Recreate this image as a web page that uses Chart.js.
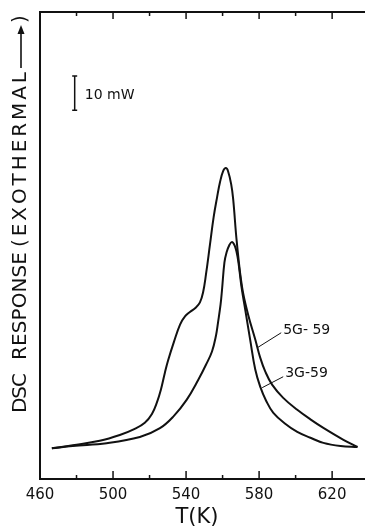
<!DOCTYPE html>
<html>
<head>
<meta charset="utf-8">
<script src="https://cdn.jsdelivr.net/npm/chart.js@4.4.1/dist/chart.umd.min.js"></script>
<style>
    html, body { margin: 0; padding: 0; background: #fff; }
    #wrap { width: 365px; height: 529px; position: relative; }
</style>
</head>
<body>
<div id="wrap"><canvas id="dscChart"></canvas></div>
<script>
// 5G-59 (tall peak with shoulder), temperature in K, response in mW (arbitrary zero)
const tempA = [466.5, 477.9, 492.7, 503.7, 511.9, 517.4, 521.3, 524.0, 526.2, 528.4, 530.1, 533.4, 536.7, 539.4, 542.1, 545.4, 547.6, 549.3, 550.9, 553.1, 555.1, 557.0, 558.6, 560.3, 561.8, 563.0, 564.7, 565.8, 567.8, 570.7, 574.0, 577.9, 580.6, 583.4, 587.2, 593.2, 600.9, 608.1, 615.2, 626.2, 633.9];
const respA = [9.0, 9.9, 11.2, 12.9, 14.7, 16.5, 19.1, 22.4, 26.2, 31.2, 34.7, 40.3, 45.3, 47.7, 49.0, 50.3, 51.8, 54.7, 60.0, 68.8, 76.8, 82.7, 87.1, 90.3, 91.2, 90.3, 86.5, 82.1, 69.4, 56.2, 48.2, 40.9, 35.6, 31.5, 27.6, 23.8, 20.3, 17.5, 15.0, 11.5, 9.4];

// 3G-59
const tempB = [466.5, 477.9, 496.5, 514.7, 525.7, 533.0, 540.3, 546.7, 550.9, 554.2, 556.4, 557.5, 558.9, 559.7, 561.0, 562.2, 563.6, 565.1, 566.6, 567.7, 568.7, 570.4, 572.4, 575.1, 577.9, 580.6, 583.9, 587.8, 594.3, 600.9, 608.1, 615.2, 624.6, 633.9];
const respB = [9.0, 9.7, 10.5, 12.3, 14.9, 18.3, 23.2, 29.1, 33.5, 37.4, 42.1, 45.9, 51.2, 55.6, 63.5, 66.5, 68.5, 69.5, 68.5, 66.5, 63.5, 56.2, 49.7, 40.9, 32.1, 27.1, 22.9, 19.4, 16.2, 13.8, 12.1, 10.6, 9.7, 9.4];

const seriesNames = ['5G-59', '3G-59'];
const xTickLabels = [460, 500, 540, 580, 620];
const xMinorTicks = [480, 520, 560, 600];
const topMajorTicks = [500, 540, 580, 620];
const topMinorTicks = [480, 520, 560, 600];

const FONT = "'DejaVu Sans', 'Liberation Sans', sans-serif";
const INK = '#111';

// labels, leaders, scale bar, frame extras
const decorations = {
    id: 'decorations',
    afterDraw(chart) {
        const ctx = chart.ctx;
        const area = chart.chartArea;
        const xs = chart.scales.x, ys = chart.scales.y;
        const px = v => xs.getPixelForValue(v);
        const py = v => ys.getPixelForValue(v);

        ctx.save();
        ctx.strokeStyle = INK;
        ctx.fillStyle = INK;

        // top frame line
        ctx.lineWidth = 2;
        ctx.beginPath();
        ctx.moveTo(area.left - 1, area.top);
        ctx.lineTo(area.right, area.top);
        ctx.stroke();

        // inward ticks
        ctx.lineWidth = 1.5;
        const tick = (v, y0, len) => {
            ctx.beginPath();
            ctx.moveTo(px(v), y0);
            ctx.lineTo(px(v), y0 + len);
            ctx.stroke();
        };
        xTickLabels.forEach(v => tick(v, area.bottom, -8));
        xMinorTicks.forEach(v => tick(v, area.bottom, -4));
        topMajorTicks.forEach(v => tick(v, area.top, 7));
        topMinorTicks.forEach(v => tick(v, area.top, 4));

        // 10 mW scale bar
        const bx = px(479), by0 = py(108.2), by1 = py(118.2);
        ctx.lineWidth = 1.5;
        ctx.beginPath();
        ctx.moveTo(bx, by0); ctx.lineTo(bx, by1);
        ctx.moveTo(bx - 2.5, by0); ctx.lineTo(bx + 2.5, by0);
        ctx.moveTo(bx - 2.5, by1); ctx.lineTo(bx + 2.5, by1);
        ctx.stroke();
        ctx.font = '14px ' + FONT;
        ctx.textAlign = 'left';
        ctx.textBaseline = 'middle';
        ctx.fillText('10 mW', px(484.5), py(112.6));

        // series labels with leader lines
        ctx.lineWidth = 1;
        ctx.beginPath();
        ctx.moveTo(px(579.0), py(38.5)); ctx.lineTo(px(592.1), py(42.9));
        ctx.moveTo(px(581.7), py(26.8)); ctx.lineTo(px(593.2), py(30.0));
        ctx.stroke();
        ctx.fillText('5G- 59', px(593.2), py(43.5));
        ctx.fillText(seriesNames[1], px(594.3), py(31.0));

        // rotated y-axis label, each chunk fitted between two heights
        const drawFit = (text, yBottom, yTop, x) => {
            ctx.save();
            ctx.translate(x, yBottom);
            ctx.rotate(-Math.PI / 2);
            ctx.font = '20px ' + FONT;
            ctx.textBaseline = 'middle';
            ctx.textAlign = 'left';
            const chars = text.split('');
            const widths = chars.map(c => ctx.measureText(c).width);
            const natural = widths.reduce((a, b) => a + b, 0);
            const gap = chars.length > 1 ? ((yBottom - yTop) - natural) / (chars.length - 1) : 0;
            let pos = 0;
            chars.forEach((c, i) => {
                ctx.fillText(c, pos, 0);
                pos += widths[i] + gap;
            });
            ctx.restore();
        };
        const lx = 20.5;
        drawFit('DSC', 413, 373, lx);
        drawFit('RESPONSE', 360, 252, lx);
        drawFit('(EXOTHERMAL', 247, 72, lx);
        drawFit(')', 23, 10, lx);
        // arrow
        ctx.lineWidth = 1.6;
        ctx.beginPath();
        ctx.moveTo(lx + 0.5, 68);
        ctx.lineTo(lx + 0.5, 32);
        ctx.stroke();
        ctx.beginPath();
        ctx.moveTo(lx + 0.5, 25);
        ctx.lineTo(lx - 3, 34);
        ctx.lineTo(lx + 4, 34);
        ctx.closePath();
        ctx.fill();

        // x-axis title
        ctx.font = '21px ' + FONT;
        ctx.textAlign = 'center';
        ctx.textBaseline = 'middle';
        ctx.fillText('T(K)', 197, 518);

        ctx.restore();
    }
};

const toPoints = (xs, ys) => xs.map((x, i) => ({ x: x, y: ys[i] }));
const allXTicks = xTickLabels.concat(xMinorTicks).sort((a, b) => a - b);

new Chart(document.getElementById('dscChart').getContext('2d'), {
    type: 'scatter',
    data: {
        datasets: [{
            label: seriesNames[0],
            data: toPoints(tempA, respA),
            showLine: true,
            borderColor: INK,
            borderWidth: 2,
            pointRadius: 0,
            tension: 0.4
        }, {
            label: seriesNames[1],
            data: toPoints(tempB, respB),
            showLine: true,
            borderColor: INK,
            borderWidth: 2,
            pointRadius: 0,
            tension: 0.4
        }]
    },
    options: {
        animation: false,
        responsive: true,
        maintainAspectRatio: false,
        layout: { padding: { top: 12, right: 0, bottom: 0, left: 0 } },
        plugins: {
            legend: { display: false },
            tooltip: { enabled: false }
        },
        scales: {
            x: {
                type: 'linear',
                min: 460,
                max: 638,
                grid: { display: false, drawTicks: false },
                border: { display: true, color: INK, width: 2 },
                ticks: {
                    autoSkip: false,
                    maxRotation: 0,
                    padding: 7,
                    color: INK,
                    font: { family: FONT, size: 15 },
                    callback: v => xTickLabels.includes(v) ? String(v) : ''
                },
                afterBuildTicks: s => { s.ticks = allXTicks.map(v => ({ value: v })); },
                afterFit: s => { s.height = 50; s.paddingRight = 0; s.paddingLeft = 0; }
            },
            y: {
                min: 0,
                max: 137,
                grid: { display: false, drawTicks: false },
                border: { display: true, color: INK, width: 2 },
                ticks: { display: false },
                afterFit: s => { s.width = 40; }
            }
        }
    },
    plugins: [decorations]
});
</script>
</body>
</html>
